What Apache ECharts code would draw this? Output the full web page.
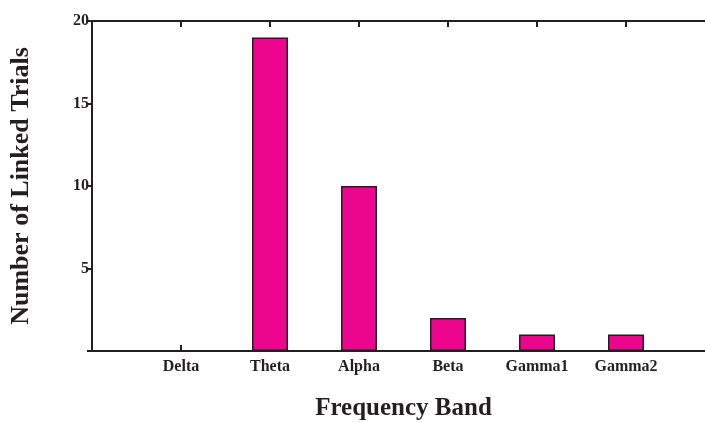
<!DOCTYPE html>
<html>
<head>
<meta charset="utf-8">
<script src="https://cdn.jsdelivr.net/npm/echarts@6/dist/echarts.min.js"></script>
<style>html,body{margin:0;padding:0;background:#fff}#c{width:705px;height:422px}</style>
</head>
<body>
<div id="c"></div>
<script>
const categories = ['Delta', 'Theta', 'Alpha', 'Beta', 'Gamma1', 'Gamma2'];
const values = [0, 19, 10, 2, 1, 1];
const yTicks = [0, 5, 10, 15, 20];

const axisCats = [''].concat(categories, ['']);
const axisVals = [null].concat(values, [null]);

const font = "'Liberation Serif', 'Times New Roman', serif";
const ink = '#231f20';

const chart = echarts.init(document.getElementById('c'), null, {renderer: 'canvas'});
chart.setOption({
  animation: false,
  backgroundColor: '#fff',
  grid: {left: 92, top: 21, bottom: 71, right: -10, containLabel: false, outerBoundsMode: 'none'},
  xAxis: [{
    type: 'category', data: axisCats, boundaryGap: false, position: 'bottom',
    name: 'Frequency Band', nameLocation: 'middle', nameGap: 45,
    nameTextStyle: {fontFamily: font, fontWeight: 'bold', fontSize: 25, color: ink},
    axisLine: {lineStyle: {color: ink, width: 2}},
    axisTick: {inside: true, length: 6, lineStyle: {color: ink, width: 2}, alignWithLabel: true},
    axisLabel: {fontFamily: font, fontWeight: 'bold', fontSize: 16, color: ink, margin: 8, interval: 0},
    splitLine: {show: false}
  }, {
    type: 'category', data: axisCats, boundaryGap: false, position: 'top',
    axisLine: {lineStyle: {color: ink, width: 2}},
    axisTick: {inside: true, length: 6, lineStyle: {color: ink, width: 2}},
    axisLabel: {show: false},
    splitLine: {show: false}
  }],
  yAxis: {
    type: 'value', min: yTicks[0], max: yTicks[yTicks.length - 1], interval: 5,
    name: 'Number of Linked Trials', nameLocation: 'middle', nameGap: 58,
    nameTextStyle: {fontFamily: font, fontWeight: 'bold', fontSize: 26, color: ink},
    axisLine: {show: true, lineStyle: {color: ink, width: 2}},
    axisTick: {show: true, inside: false, length: 5, lineStyle: {color: ink, width: 2}},
    axisLabel: {fontFamily: font, fontWeight: 'bold', fontSize: 16, color: ink, margin: 3,
      formatter: v => v === 0 ? '' : String(v)},
    splitLine: {show: false}
  },
  series: [{
    type: 'bar', data: axisVals, barWidth: 36, xAxisIndex: 0,
    itemStyle: {color: '#EC068D', borderColor: ink, borderWidth: 1.5}
  }]
});
</script>
</body>
</html>
